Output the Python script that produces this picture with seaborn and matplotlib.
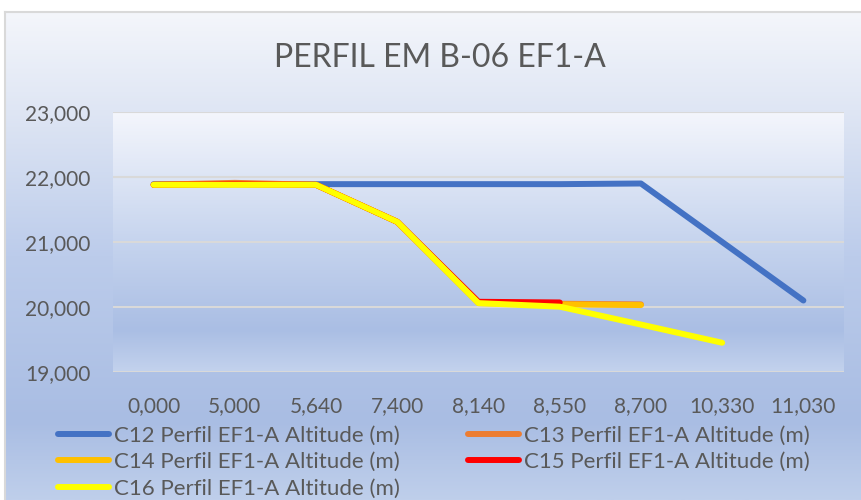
import numpy as np
import pandas as pd
import seaborn as sns
import matplotlib.pyplot as plt
from matplotlib.colors import LinearSegmentedColormap
from matplotlib.ticker import FuncFormatter

# categories on the x axis (distance labels)
distances = ["0,000", "5,000", "5,640", "7,400", "8,140", "8,550", "8,700", "10,330", "11,030"]

# altitude (m) of each profile, None where the series has no value
c12 = [21890, 21890, 21890, 21890, 21890, 21890, 21900, 21000, 20100]
c13 = [21880, 21910, 21880, 21310, 20070, 20050, 20040, None, None]
c14 = [21880, 21890, 21880, 21310, 20060, 20040, 20030, None, None]
c15 = [21880, 21890, 21880, 21310, 20080, 20070, None, None, None]
c16 = [21880, 21880, 21880, 21310, 20060, 20005, 19730, 19450, None]

series_names = ["C12 Perfil EF1-A Altitude (m)", "C13 Perfil EF1-A Altitude (m)",
                "C14 Perfil EF1-A Altitude (m)", "C15 Perfil EF1-A Altitude (m)",
                "C16 Perfil EF1-A Altitude (m)"]
series_values = [c12, c13, c14, c15, c16]
series_colors = ["#4472C4", "#ED7D31", "#FFC000", "#FF0000", "#FFFF00"]

# long table for seaborn
rows = []
for name, vals in zip(series_names, series_values):
    for i, v in enumerate(vals):
        if v is not None:
            rows.append({"pos": i, "altitude": v, "serie": name})
df = pd.DataFrame(rows)

sns.set_style("white")
plt.rcParams["font.family"] = ["Lato", "DejaVu Sans"]

fig = plt.figure(figsize=(8.62, 5.0), dpi=100)
fig.patch.set_facecolor("white")

# chart frame with vertical gradient
bg_ax = fig.add_axes([5 / 862, 0, 1, 1 - 12 / 500], zorder=-2)
bg_cmap = LinearSegmentedColormap.from_list(
    "bg", [(0.0, "#f4f6fb"), (0.2, "#dfe6f4"), (0.5, "#bccceb"), (0.84, "#a9bde3"), (1.0, "#bfcfeb")])
bg_ax.imshow(np.linspace(0, 1, 256).reshape(-1, 1), cmap=bg_cmap, aspect="auto", extent=[0, 1, 0, 1])
bg_ax.set_xticks([])
bg_ax.set_yticks([])
for side in ["right", "bottom"]:
    bg_ax.spines[side].set_visible(False)
for side in ["left", "top"]:
    bg_ax.spines[side].set_color("#d9d9d9")
    bg_ax.spines[side].set_linewidth(1.5)

# plot area with its own gradient
pos = [113 / 862, 1 - 372 / 500, (844 - 113) / 862, (372 - 112) / 500]
pa_ax = fig.add_axes(pos, zorder=-1)
pa_cmap = LinearSegmentedColormap.from_list(
    "pa", [(0.0, "#f4f6fc"), (0.5, "#c6d4ee"), (0.84, "#aabee4"), (1.0, "#c3d2ed")])
pa_ax.imshow(np.linspace(0, 1, 256).reshape(-1, 1), cmap=pa_cmap, aspect="auto", extent=[0, 1, 0, 1])
pa_ax.axis("off")

ax = fig.add_axes(pos, zorder=1)
ax.set_facecolor("none")

sns.lineplot(data=df, x="pos", y="altitude", hue="serie", hue_order=series_names,
             palette=dict(zip(series_names, series_colors)), linewidth=4.3,
             sort=False, ax=ax)
for line in ax.lines:
    line.set_solid_capstyle("round")
    line.set_solid_joinstyle("round")

ax.set_xlim(-0.5, len(distances) - 0.5)
ax.set_ylim(19000, 23000)
ax.set_yticks([19000, 20000, 21000, 22000, 23000])
ax.yaxis.set_major_formatter(FuncFormatter(lambda v, p: f"{int(v):,}"))
ax.set_xticks(range(len(distances)))
ax.set_xticklabels(distances)
ax.set_xlabel("")
ax.set_ylabel("")
ax.grid(axis="y", color="#d9d9d9", linewidth=1.5)
ax.set_axisbelow(True)
ax.tick_params(axis="both", length=0, labelsize=15, labelcolor="#595959")
ax.tick_params(axis="y", pad=16)
ax.tick_params(axis="x", pad=17)
for s in ax.spines.values():
    s.set_visible(False)

# legend filled row by row like the original
handles, labels = ax.get_legend_handles_labels()
order = [0, 2, 4, 1, 3]
ax.legend([handles[i] for i in order], [labels[i] for i in order], ncol=2,
          loc="upper left", bbox_to_anchor=(58 / 862, 1 - 426 / 500),
          bbox_transform=fig.transFigure, frameon=False, fontsize=16,
          labelcolor="#595959", handlelength=2.3, handletextpad=0.2,
          columnspacing=3.1, labelspacing=0.28, borderaxespad=0, borderpad=0)

fig.text(440 / 862, 1 - 58 / 500, "PERFIL EM B-06 EF1-A", ha="center", va="center",
         fontsize=23, color="#595959")

fig.savefig("out.png", dpi=100)
